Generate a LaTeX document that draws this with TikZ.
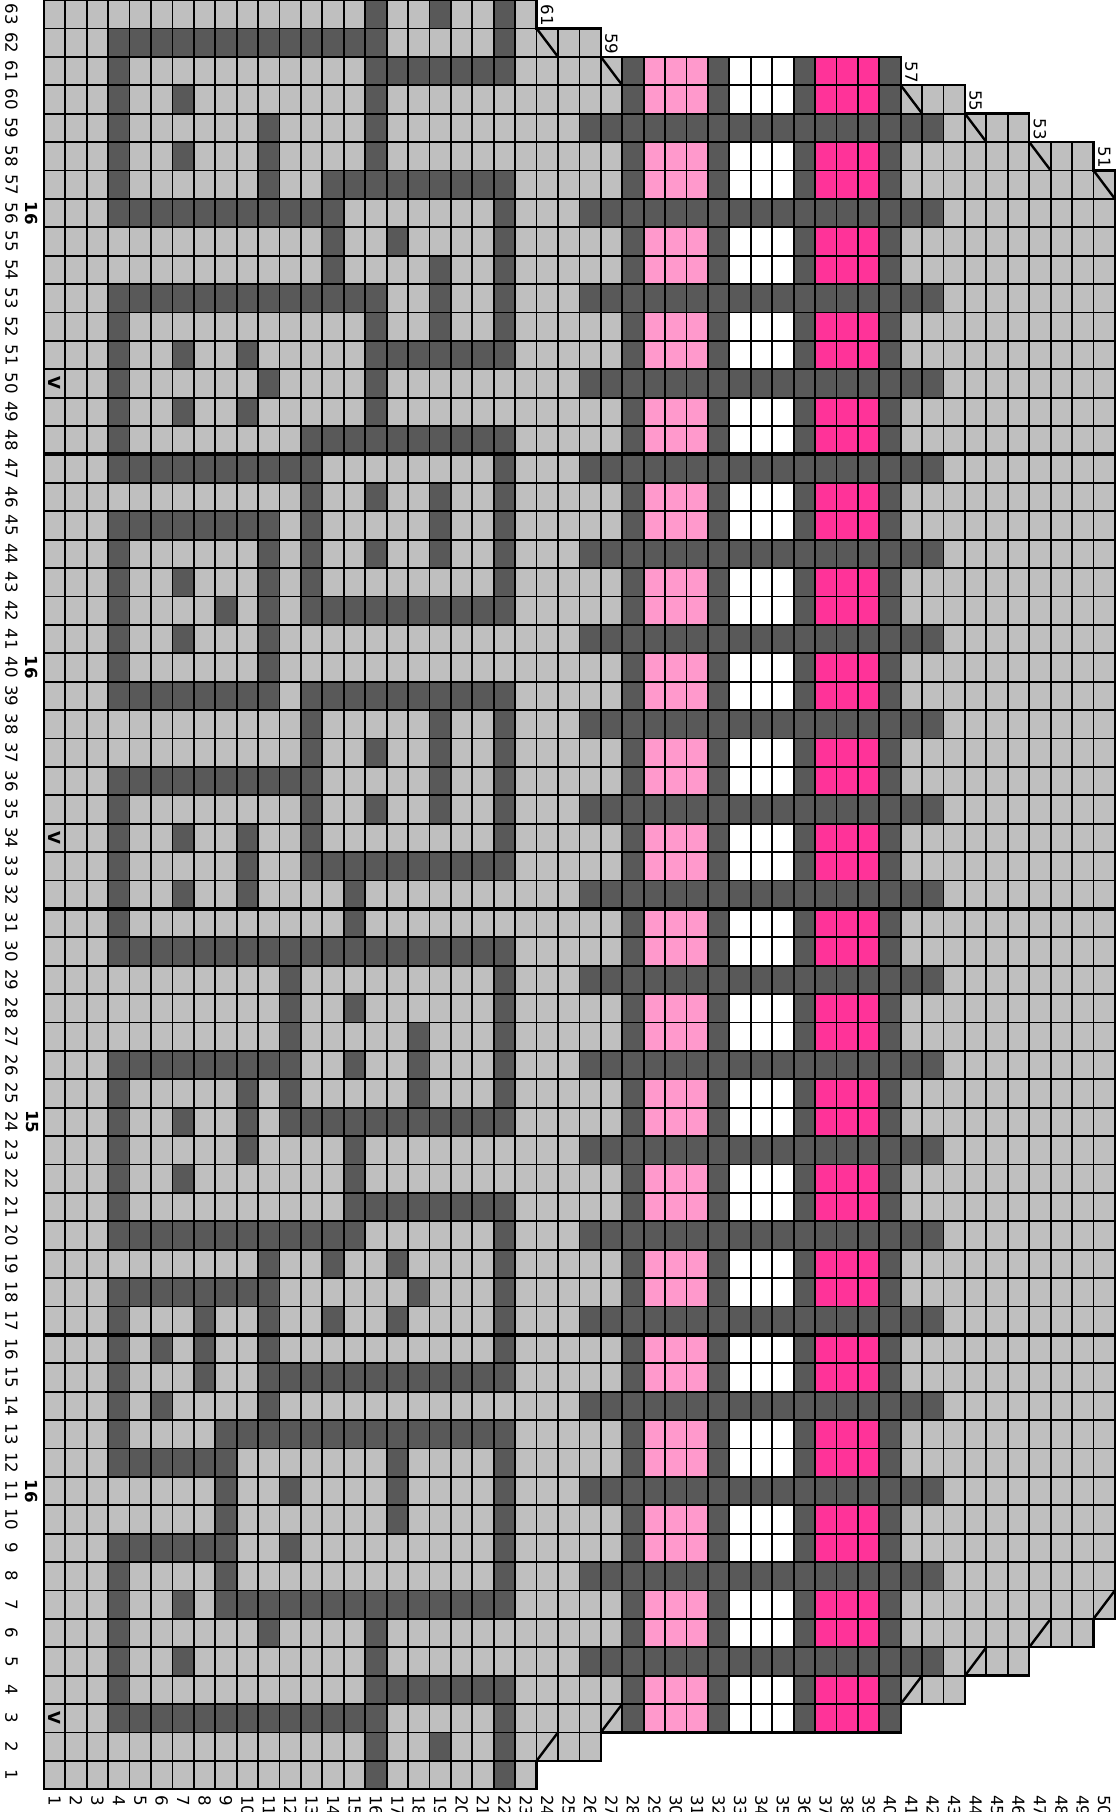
\documentclass[tikz,border=0pt]{standalone}
\usepackage{fontspec}
\setmainfont{DejaVu Sans}
\usepackage{tikz}
\definecolor{lg}{HTML}{BFBFBF}
\definecolor{dk}{HTML}{595959}
\definecolor{pk}{HTML}{FF99CC}
\definecolor{hp}{HTML}{FF3399}
\def\XO{43.9}
\def\CW{21.42}
\def\RH{28.4}
\def\rowrange{%
  \ifnum\ci<24 \def\rlo{1}\def\rhi{63}%
  \else\ifnum\ci<27 \def\rlo{2}\def\rhi{62}%
  \else\ifnum\ci<41 \def\rlo{3}\def\rhi{61}%
  \else\ifnum\ci<44 \def\rlo{4}\def\rhi{60}%
  \else\ifnum\ci<47 \def\rlo{5}\def\rhi{59}%
  \else\ifnum\ci<50 \def\rlo{6}\def\rhi{58}%
  \else \def\rlo{7}\def\rhi{57}%
  \fi\fi\fi\fi\fi\fi}
\def\pickcol{%
  \ifnum\ci<24
    \ifcsname dk@\ci @\ri\endcsname\def\cc{dk}\else\def\cc{lg}\fi
  \else
    \def\cc{lg}%
    \pgfmathtruncatemacro\mm{mod(\ri,3)}%
    \ifnum\ri<5 \def\mm{0}\fi
    \ifnum\ri>59 \def\mm{0}\fi
    \ifnum\mm=2
      \ifnum\ci>25 \ifnum\ci<43 \def\cc{dk}\fi\fi
    \else
      \ifnum\ci>27 \ifnum\ci<41 \def\cc{dk}\fi\fi
      \ifnum\ci>28 \ifnum\ci<32 \def\cc{pk}\fi\fi
      \ifnum\ci>32 \ifnum\ci<36 \def\cc{white}\fi\fi
      \ifnum\ci>36 \ifnum\ci<40 \def\cc{hp}\fi\fi
    \fi
  \fi}
\def\gp#1#2{({\XO+#1*\CW},{(63-#2)*\RH})}
\begin{document}
\begin{tikzpicture}[x=0.5pt,y=-0.5pt,
  cell/.style={draw=black,line width=0.9pt},
  thickline/.style={draw=black,line width=2pt},
  diag/.style={draw=black,line width=1.2pt},
  lab/.style={rotate=-90,inner sep=0pt,font=\fontsize{8.3}{10}\selectfont},
  blab/.style={rotate=-90,inner sep=0pt,font=\fontsize{8.3}{10}\selectfont\bfseries}]
\useasboundingbox (0,0) rectangle (1120,1812);
\fill[white] (0,0) rectangle (1120,1812);
% dark cells of the left motif: row / list of column ranges
\foreach \ri/\lst in {
63/{16/16,19/19,22/22},
62/{4/16,22/22},
61/{4/4,16/22},
60/{4/4,7/7,16/16},
59/{4/4,11/11,16/16},
58/{4/4,7/7,11/11,16/16},
57/{4/4,11/11,14/22},
56/{4/14,22/22},
55/{14/14,17/17,22/22},
54/{14/14,19/19,22/22},
53/{4/16,19/19,22/22},
52/{4/4,16/16,19/19,22/22},
51/{4/4,7/7,10/10,16/22},
50/{4/4,11/11,16/16},
49/{4/4,7/7,10/10,16/16},
48/{4/4,13/22},
47/{4/13,22/22},
46/{13/13,16/16,19/19,22/22},
45/{4/11,13/13,19/19,22/22},
44/{4/4,11/11,13/13,16/16,19/19,22/22},
43/{4/4,7/7,11/11,13/13,22/22},
42/{4/4,9/9,11/11,13/22},
41/{4/4,7/7,11/11},
40/{4/4,11/11},
39/{4/11,13/22},
38/{13/13,19/19,22/22},
37/{13/13,16/16,19/19,22/22},
36/{4/13,19/19,22/22},
35/{4/4,13/13,16/16,19/19,22/22},
34/{4/4,7/7,10/10,13/13,22/22},
33/{4/4,10/10,13/22},
32/{4/4,7/7,10/10,15/15},
31/{4/4,15/15},
30/{4/22},
29/{12/12,22/22},
28/{12/12,15/15,22/22},
27/{12/12,18/18,22/22},
26/{4/12,15/15,18/18,22/22},
25/{4/4,10/10,12/12,18/18,22/22},
24/{4/4,7/7,10/10,12/22},
23/{4/4,10/10,15/15},
22/{4/4,7/7,15/15},
21/{4/4,15/22},
20/{4/15,22/22},
19/{11/11,14/14,17/17,22/22},
18/{4/11,18/18,22/22},
17/{4/4,8/8,11/11,14/14,17/17,22/22},
16/{4/4,6/6,8/8,11/11,22/22},
15/{4/4,8/8,11/22},
14/{4/4,6/6,11/11},
13/{4/4,9/22},
12/{4/9,17/17,22/22},
11/{9/9,12/12,17/17,22/22},
10/{9/9,17/17,22/22},
9/{4/9,12/12,22/22},
8/{4/4,9/9,22/22},
7/{4/4,7/7,9/22},
6/{4/4,11/11,16/16},
5/{4/4,7/7,16/16},
4/{4/4,16/22},
3/{4/16,22/22},
2/{16/16,19/19,22/22},
1/{16/16,22/22}}{%
  \foreach \ua/\ub in \lst {%
    \foreach \ci in {\ua,...,\ub}{%
      \expandafter\gdef\csname dk@\ci @\ri\endcsname{}}}}
% cells
\foreach \ci in {1,...,50}{%
  \rowrange
  \foreach \ri in {\rlo,...,\rhi}{%
    \pickcol
    \path[cell,fill=\cc] ({\XO+(\ci-1)*\CW},{(63-\ri)*\RH}) rectangle ++(\CW,\RH);
  }}
% outline
\draw[line width=1.2pt] \gp{0}{63} -- \gp{23}{63} -- \gp{23}{62} -- \gp{26}{62} -- \gp{26}{61}
  -- \gp{40}{61} -- \gp{40}{60} -- \gp{43}{60} -- \gp{43}{59} -- \gp{46}{59} -- \gp{46}{58}
  -- \gp{49}{58} -- \gp{49}{57} -- \gp{50}{57} -- \gp{50}{6} -- \gp{49}{6} -- \gp{49}{5}
  -- \gp{46}{5} -- \gp{46}{4} -- \gp{43}{4} -- \gp{43}{3} -- \gp{40}{3} -- \gp{40}{2}
  -- \gp{26}{2} -- \gp{26}{1} -- \gp{23}{1} -- \gp{23}{0} -- \gp{0}{0} -- cycle;
% thick separators
\foreach \rr in {47,31,16}
  \draw[thickline] \gp{0}{\rr} -- \gp{50}{\rr};
% diagonal cells at the top and bottom edges
\foreach \ci/\rr in {24/62,27/61,41/60,44/59,47/58,50/57}
  \draw[diag] ({\XO+(\ci-1)*\CW},{(63-\rr)*\RH}) -- ++(\CW,\RH);
\foreach \ci/\rr in {24/2,27/3,41/4,44/5,47/6,50/7}
  \draw[diag] ({\XO+(\ci-1)*\CW},{(64-\rr)*\RH}) -- ++(\CW,-\RH);
% staircase labels
\foreach \ci/\t/\rr in {24/61/62,27/59/61,41/57/60,44/55/59,47/53/58,50/51/57}
  \node[lab,anchor=east] (st\ci) at ({\XO+(\ci-0.5)*\CW},{(63-\rr)*\RH-2}) {\t};
% row numbers
\foreach \ri in {1,...,63}
  \node[lab] (rn\ri) at (11.5,{(63-\ri+0.5)*\RH}) {\ri};
% column numbers
\foreach \ci in {1,...,50}
  \node[lab,anchor=west] (cn\ci) at ({\XO+(\ci-0.5)*\CW},1795) {\ci};
% bold repeat counts
\foreach \ri/\t in {56/16,40/16,24/15,11/16}
  \node[blab] (bc\ri) at (32,{(63-\ri+0.5)*\RH}) {\t};
% markers in column 1
\foreach \ri in {50,34,3}
  \node[blab] (mk\ri) at ({\XO+0.5*\CW},{(63-\ri+0.5)*\RH}) {V};
\end{tikzpicture}
\end{document}
